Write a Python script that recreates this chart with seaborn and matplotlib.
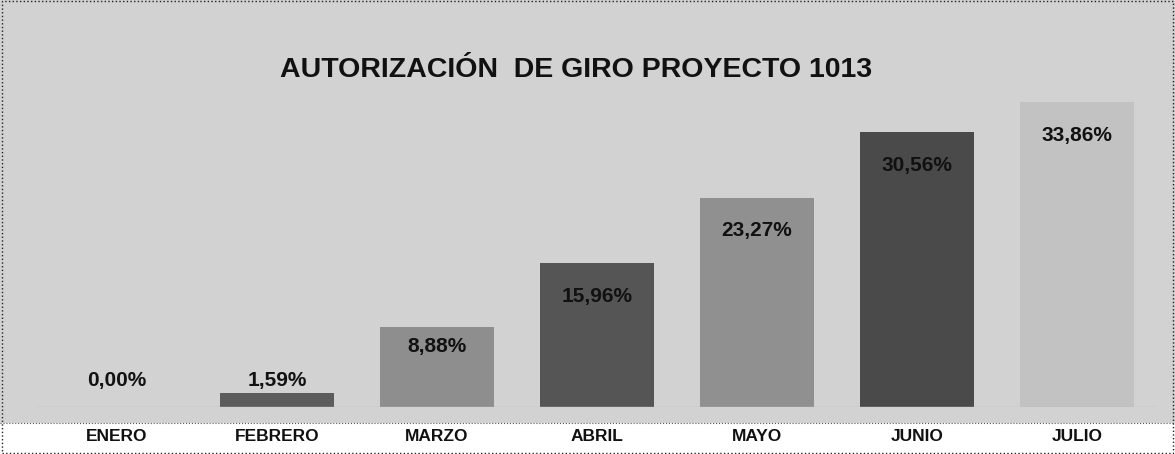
import matplotlib
matplotlib.use("Agg")
import matplotlib.pyplot as plt
import seaborn as sns
import pandas as pd
from matplotlib.patches import Rectangle

# datos
meses = ['ENERO', 'FEBRERO', 'MARZO', 'ABRIL', 'MAYO', 'JUNIO', 'JULIO']
porcentaje = [0.00, 1.59, 8.88, 15.96, 23.27, 30.56, 33.86]
etiquetas = ['0,00%', '1,59%', '8,88%', '15,96%', '23,27%', '30,56%', '33,86%']
titulo = 'AUTORIZACIÓN  DE GIRO PROYECTO 1013'

colores = ['#6a6a6a', '#5c5c5c', '#8e8e8e', '#555555', '#909090', '#4a4a4a', '#c2c2c2']

sns.set_theme(style="white")
plt.rcParams['font.family'] = ['Liberation Sans', 'DejaVu Sans']

df = pd.DataFrame({'mes': meses, 'valor': porcentaje})

fig = plt.figure(figsize=(11.75, 4.54), dpi=100)
fig.patch.set_facecolor('#d2d2d2')
# franja blanca de las etiquetas del eje
fig.patches.append(Rectangle((0, 0), 1, 0.068, transform=fig.transFigure,
                             facecolor='white', edgecolor='none', zorder=-5))
fig.patches.append(Rectangle((0.002, 0.002), 0.996, 0.996, transform=fig.transFigure,
                             facecolor='none', edgecolor='#222222', linestyle=':',
                             linewidth=1, zorder=5))
fig.lines.append(plt.Line2D([0, 1], [0.068, 0.068], transform=fig.transFigure,
                            color='#555555', linestyle=':', linewidth=0.8))

ax = fig.add_axes([37 / 1175, 47 / 454, 1120 / 1175, 315 / 454])
ax.set_facecolor('none')
sns.barplot(data=df, x='mes', y='valor', hue='mes', palette=colores,
            width=0.707, legend=False, ax=ax, edgecolor='none')

ax.set_ylim(0, 35)
ax.set_xlim(-0.5, 6.5)
ax.set_yticks([])
ax.set_xlabel('')
ax.set_ylabel('')
for s in ax.spines.values():
    s.set_visible(False)
ax.axhline(0, color='#bbbbbb', lw=1)

ax.tick_params(axis='x', length=0, pad=16)
for t in ax.get_xticklabels():
    t.set_fontsize(12.5)
    t.set_fontweight('bold')
    t.set_color('#111111')

# etiquetas de datos: encima de la base si el valor es pequeño, dentro del extremo si no
for i, (v, txt) in enumerate(zip(porcentaje, etiquetas)):
    if v < 5:
        ax.annotate(txt, xy=(i, 0), xytext=(0, 19), textcoords='offset points',
                    ha='center', va='center', fontsize=15, fontweight='bold', color='#111111')
    else:
        off = -14 if v < 12 else -24
        ax.annotate(txt, xy=(i, v), xytext=(0, off), textcoords='offset points',
                    ha='center', va='center', fontsize=15, fontweight='bold', color='#111111')

fig.text(0.49, 0.845, titulo, ha='center', va='center', fontsize=20.5,
         fontweight='bold', color='#111111')

fig.savefig('out.png', dpi=100, facecolor=fig.get_facecolor())
